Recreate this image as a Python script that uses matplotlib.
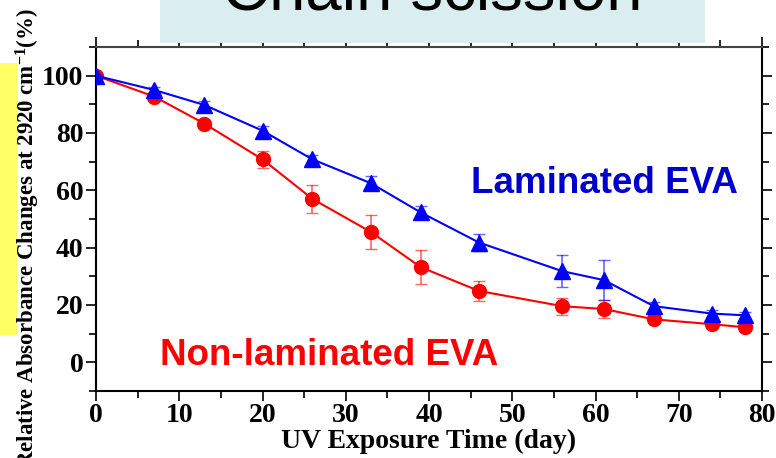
import matplotlib
matplotlib.use("Agg")
import matplotlib.pyplot as plt
from matplotlib.patches import Rectangle
from matplotlib.ticker import MultipleLocator

plt.rcParams['font.family'] = 'Liberation Serif'
plt.rcParams['mathtext.fontset'] = 'custom'
plt.rcParams['mathtext.rm'] = 'Liberation Serif:bold'
plt.rcParams['mathtext.bf'] = 'Liberation Serif:bold'
plt.rcParams['mathtext.default'] = 'rm'

# UV exposure days
days = [0, 7, 13, 20, 26, 33, 39, 46, 56, 61, 67, 74, 78]

# laminated EVA (blue triangles)
lam = [100, 95, 89.8, 80.8, 70.8, 62.5, 52.3, 41.8, 31.8, 28.7, 19.6, 17.0, 16.4]
lam_err = [0.5, 1.0, 1.2, 1.5, 1.5, 2.5, 2.2, 3.0, 5.5, 7.0, 1.5, 1.2, 1.2]

# non-laminated EVA (red circles)
non = [100, 92.7, 83.3, 70.8, 57.0, 45.5, 33.2, 24.9, 19.6, 18.6, 15.0, 13.3, 12.2]
non_err = [0.5, 1.0, 1.0, 3.0, 5.0, 6.0, 6.0, 3.5, 3.0, 3.2, 1.2, 1.2, 1.2]

fig = plt.figure(figsize=(7.76, 4.58), dpi=100)

# title box, cut at the top of the slide
fig.patches.append(Rectangle((160 / 776, 1 - 43 / 458), 545 / 776, 43 / 458,
                             transform=fig.transFigure, facecolor='#daeef0',
                             edgecolor='none', zorder=0))
fig.text(432 / 776, 1 - 10 / 458, "Chain scission", family='Liberation Sans',
         fontsize=47, ha='center', va='baseline', color='black')

# yellow strip on the left
fig.patches.append(Rectangle((0, 1 - 335 / 458), 17 / 776, 272 / 458,
                             transform=fig.transFigure, facecolor='#ffff66',
                             edgecolor='none', zorder=0))

ax = fig.add_axes([96 / 776, 67 / 458, 666 / 776, 344 / 458])
ax.patch.set_alpha(0)

ax.errorbar(days, non, yerr=non_err, color='#ff0000', marker='o', markersize=10,
            lw=1.5, ecolor=(1, 0, 0, 0.6), elinewidth=1.2, capsize=4, zorder=3)
ax.errorbar(days, lam, yerr=lam_err, color='#0000ff', marker='^', markersize=12,
            lw=1.5, ecolor=(0, 0, 1, 0.6), elinewidth=1.2, capsize=4, zorder=4)

ax.set_xlim(0, 80)
ax.set_ylim(-10, 110)
ax.xaxis.set_major_locator(MultipleLocator(10))
ax.xaxis.set_minor_locator(MultipleLocator(5))
ax.yaxis.set_major_locator(MultipleLocator(20))
ax.yaxis.set_minor_locator(MultipleLocator(10))
ax.set_yticks([0, 20, 40, 60, 80, 100])

for s in ax.spines.values():
    s.set_linewidth(1.5)
ax.spines['top'].set_color('#444444')
ax.tick_params(which='both', direction='out', width=1.2, labelsize=20)
ax.tick_params(which='major', length=7)
ax.tick_params(which='minor', length=5)
ax.tick_params(which='both', top=True, right=True)
for lab in ax.get_xticklabels() + ax.get_yticklabels():
    lab.set_fontweight('bold')
ax.tick_params(axis='y', pad=2)
ax.tick_params(axis='x', pad=2)

ax.set_xlabel("UV Exposure Time (day)", fontsize=20, fontweight='bold', labelpad=0)
fig.text(28 / 776, 1 - 238 / 458,
         r"Relative Absorbance Changes at 2920 cm$^{-1}$(%)",
         rotation=90, ha='center', va='center', fontsize=16.5, fontweight='bold')

ax.text(61.1, 59.2, "Laminated EVA", family='Liberation Sans', fontweight='bold',
        fontsize=26.5, color='#0000cc', ha='center', va='baseline')
ax.text(27.95, -1.0, "Non-laminated EVA", family='Liberation Sans', fontweight='bold',
        fontsize=26.5, color='#ff0000', ha='center', va='baseline')

fig.savefig("out.png", dpi=100)
